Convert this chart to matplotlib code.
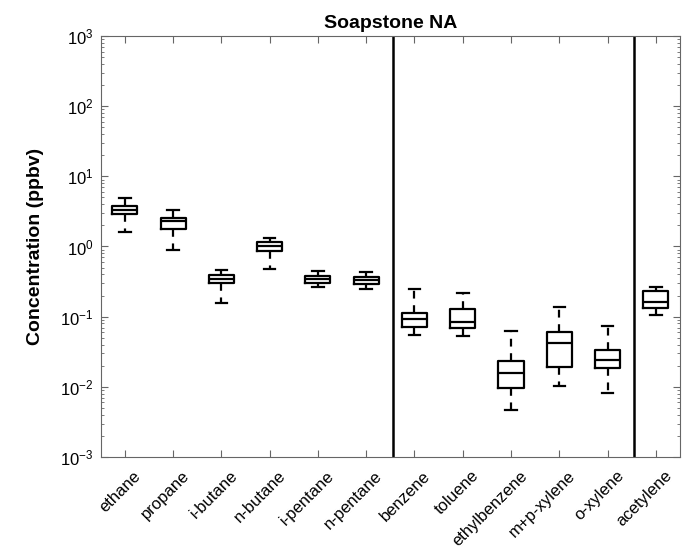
import matplotlib
matplotlib.use("Agg")
import matplotlib.pyplot as plt
import matplotlib.transforms as mtransforms
from matplotlib.ticker import LogLocator, NullFormatter

plt.rcParams['font.family'] = ['Liberation Sans', 'DejaVu Sans']

compounds = ['ethane', 'propane', 'i-butane', 'n-butane', 'i-pentane', 'n-pentane',
             'benzene', 'toluene', 'ethylbenzene', 'm+p-xylene', 'o-xylene', 'acetylene']

# box-plot statistics (ppbv)
whislo = [1.61, 0.90, 0.158, 0.48, 0.268, 0.249, 0.0548, 0.053, 0.00475, 0.0102, 0.0082, 0.106]
q1 = [2.90, 1.79, 0.306, 0.86, 0.306, 0.290, 0.0705, 0.0696, 0.0095, 0.0191, 0.0185, 0.133]
med = [3.31, 2.28, 0.349, 1.02, 0.342, 0.334, 0.0927, 0.0849, 0.0158, 0.0417, 0.0238, 0.164]
q3 = [3.73, 2.51, 0.398, 1.17, 0.381, 0.369, 0.112, 0.130, 0.0233, 0.0604, 0.0331, 0.230]
whishi = [4.90, 3.31, 0.465, 1.33, 0.454, 0.431, 0.251, 0.215, 0.0625, 0.139, 0.0736, 0.262]

# group separators
separators = [6.55, 11.55]

stats = []
for i, name in enumerate(compounds):
    stats.append({'label': name, 'whislo': whislo[i], 'q1': q1[i], 'med': med[i],
                  'q3': q3[i], 'whishi': whishi[i], 'fliers': []})

fig = plt.figure(figsize=(6.83, 5.52), dpi=100)
ax = fig.add_axes([0.1474, 0.1721, 0.8482, 0.7627])

lw = 1.6
ax.bxp(stats, positions=range(1, len(compounds) + 1), widths=0.52, showfliers=False,
       capwidths=0.24,
       boxprops=dict(color='black', linewidth=lw),
       medianprops=dict(color='black', linewidth=lw),
       whiskerprops=dict(color='black', linewidth=lw, linestyle=(0, (3.5, 3))),
       capprops=dict(color='black', linewidth=lw))

for s in separators:
    ax.axvline(s, color='black', linewidth=1.8)

ax.set_yscale('log')
ax.set_ylim(1e-3, 1e3)
ax.set_xlim(0.5, len(compounds) + 0.5)
ax.yaxis.set_major_locator(LogLocator(base=10, numticks=10))
ax.yaxis.set_minor_locator(LogLocator(base=10, subs=range(2, 10), numticks=100))
ax.yaxis.set_minor_formatter(NullFormatter())

ax.set_xticks(range(1, len(compounds) + 1))
ax.set_xticklabels(compounds, rotation=45, ha='right', rotation_mode='anchor')
ax.tick_params(axis='both', which='both', direction='in', top=True, right=True,
               color='0.4', labelsize=12)
ax.tick_params(axis='both', which='major', length=5)
ax.tick_params(axis='both', which='minor', length=2.5)
ax.tick_params(axis='x', pad=8)
ax.tick_params(axis='y', pad=5)
shift = mtransforms.ScaledTranslation(6 / 72, 0, fig.dpi_scale_trans)
for lab in ax.get_xticklabels():
    lab.set_transform(lab.get_transform() + shift)
for sp in ax.spines.values():
    sp.set_color('0.4')
    sp.set_linewidth(0.8)

ax.set_ylabel('Concentration (ppbv)', fontsize=14, fontweight='bold', labelpad=12)
ax.set_title('Soapstone NA', fontsize=14, fontweight='bold', pad=6)

fig.savefig('out.png', dpi=100)
